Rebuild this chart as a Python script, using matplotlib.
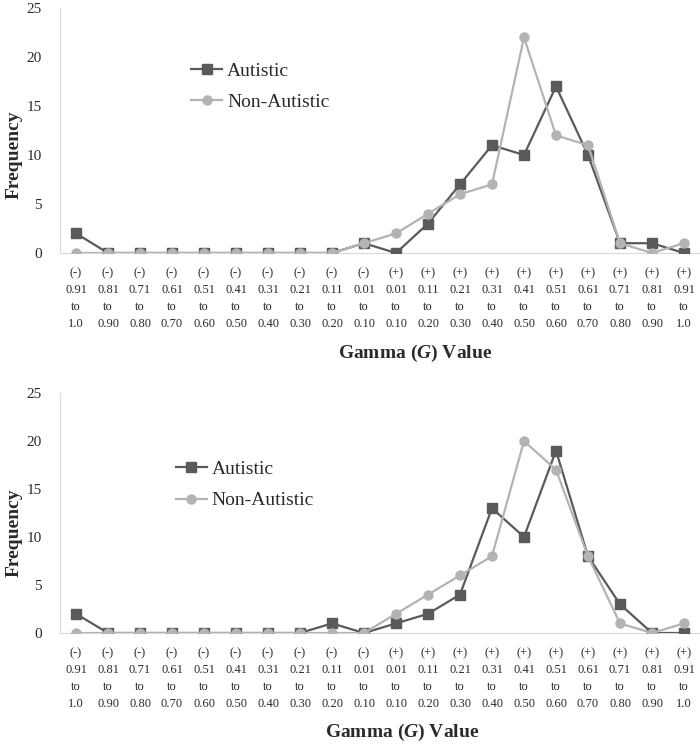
import matplotlib.pyplot as plt

plt.rcParams['font.family'] = ['Liberation Serif', 'DejaVu Serif']
plt.rcParams['mathtext.fontset'] = 'custom'
plt.rcParams['mathtext.it'] = 'Liberation Serif:bold:italic'
plt.rcParams['mathtext.rm'] = 'Liberation Serif:bold'

signs = ['(-)'] * 10 + ['(+)'] * 10
lows = ['0.91', '0.81', '0.71', '0.61', '0.51', '0.41', '0.31', '0.21', '0.11', '0.01',
        '0.01', '0.11', '0.21', '0.31', '0.41', '0.51', '0.61', '0.71', '0.81', '0.91']
highs = ['1.0', '0.90', '0.80', '0.70', '0.60', '0.50', '0.40', '0.30', '0.20', '0.10',
         '0.10', '0.20', '0.30', '0.40', '0.50', '0.60', '0.70', '0.80', '0.90', '1.0']
labels = [s + '\n' + lo + '\nto\n' + hi for s, lo, hi in zip(signs, lows, highs)]

top_autistic = [2, 0, 0, 0, 0, 0, 0, 0, 0, 1, 0, 3, 7, 11, 10, 17, 10, 1, 1, 0]
top_non = [0, 0, 0, 0, 0, 0, 0, 0, 0, 1, 2, 4, 6, 7, 22, 12, 11, 1, 0, 1]
bot_autistic = [2, 0, 0, 0, 0, 0, 0, 0, 1, 0, 1, 2, 4, 13, 10, 19, 8, 3, 0, 0]
bot_non = [0, 0, 0, 0, 0, 0, 0, 0, 0, 0, 2, 4, 6, 8, 20, 17, 8, 1, 0, 1]

dark = '#5a5a5a'
light = '#b3b3b3'
txt = '#2a2a2a'

fig = plt.figure(figsize=(7, 7.46), dpi=100)
ax1 = fig.add_axes([60 / 700, 1 - 253 / 746, 640 / 700, 245 / 746])
ax2 = fig.add_axes([60 / 700, 1 - 633 / 746, 640 / 700, 240 / 746])


def draw(ax, aut, non, leg_x, leg_y, lab_y, xl_x, xl_y):
    x = list(range(len(labels)))
    ax.plot(x, aut, color=dark, lw=1.6, marker='s', ms=6.5, label='Autistic', zorder=3)
    ax.plot(x, non, color=light, lw=1.6, marker='o', ms=6.5, label='Non-Autistic', zorder=4)
    ax.set_xlim(-0.5, len(labels) - 0.5)
    ax.set_ylim(0, 25)
    ax.set_yticks([0, 5, 10, 15, 20, 25])
    ax.set_xticks(x)
    ax.set_xticklabels(labels, fontsize=9, color=txt, linespacing=1.55)
    ax.tick_params(axis='y', length=0, pad=13, labelsize=11, labelcolor=txt)
    ax.tick_params(axis='x', length=0, pad=10)
    for s in ['top', 'right']:
        ax.spines[s].set_visible(False)
    ax.spines['left'].set_color('#d9d9d9')
    ax.spines['bottom'].set_color('#d9d9d9')
    ax.set_ylabel('Frequency', fontsize=14, fontweight='bold', color=txt)
    ax.yaxis.set_label_coords(-0.058, lab_y)
    fig.text(xl_x, xl_y, r'Gamma ($\mathit{G}$) Value', fontsize=14, fontweight='bold',
             color=txt, ha='center', va='center')
    ax.legend(loc='upper left', bbox_to_anchor=(leg_x, leg_y), frameon=False,
              prop={'size': 14}, handlelength=1.6, handletextpad=0.25,
              labelspacing=0.72, borderpad=0, borderaxespad=0, labelcolor=txt)


draw(ax1, top_autistic, top_non, 0.205, 0.78, 0.40, 415 / 700, 1 - 353 / 746)
draw(ax2, bot_autistic, bot_non, 0.181, 0.72, 0.417, 402 / 700, 1 - 732 / 746)

fig.savefig('out.png', dpi=100)
